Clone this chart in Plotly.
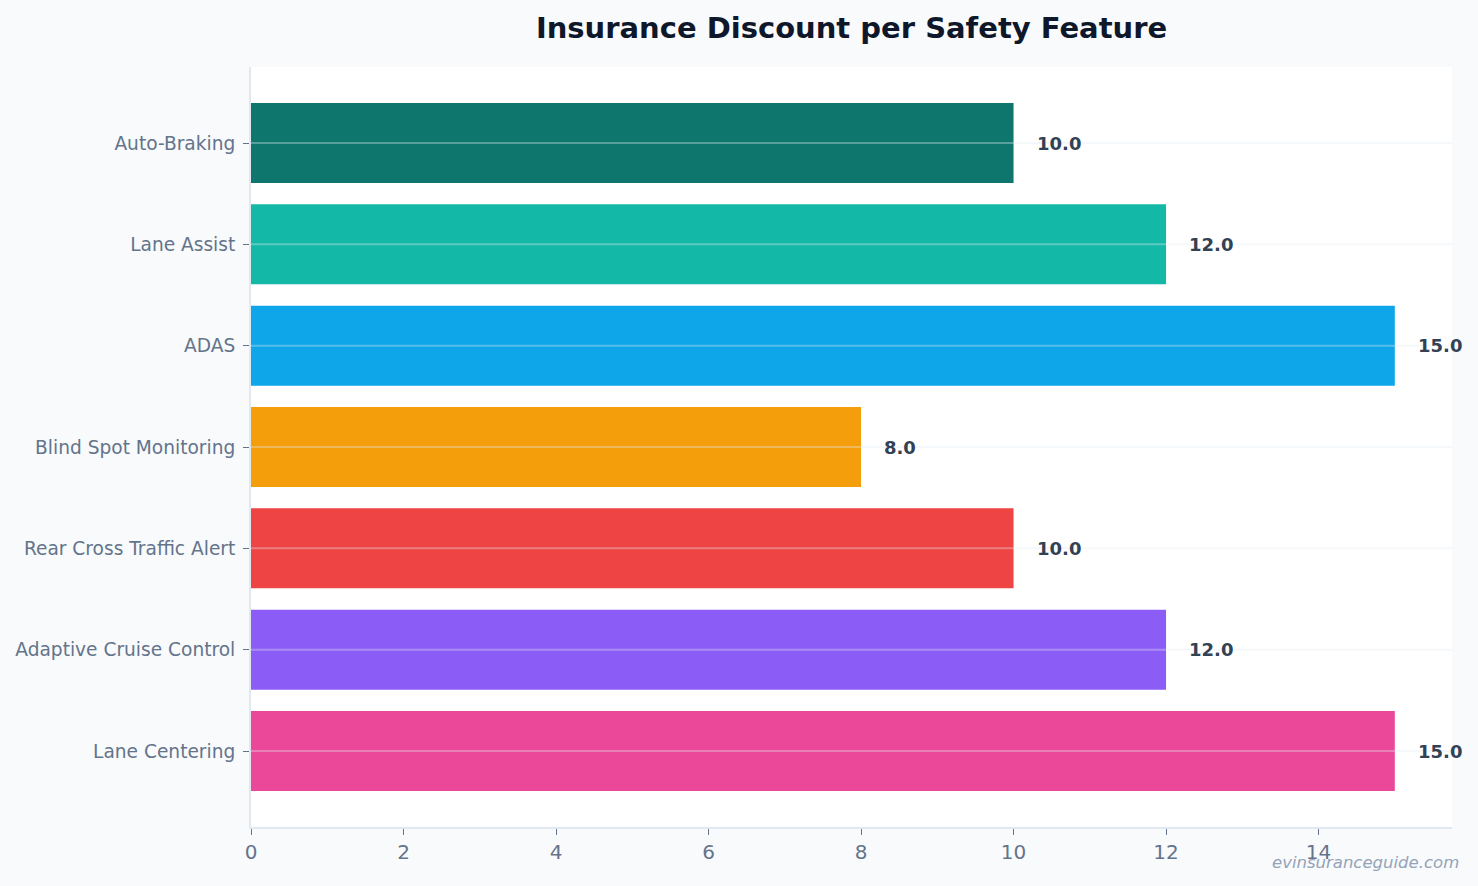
import plotly.graph_objects as go

features = ["Auto-Braking", "Lane Assist", "ADAS", "Blind Spot Monitoring",
            "Rear Cross Traffic Alert", "Adaptive Cruise Control", "Lane Centering"]
discounts = [10.0, 12.0, 15.0, 8.0, 10.0, 12.0, 15.0]
colors = ["#0f766e", "#14b8a6", "#0ea5e9", "#f59e0b", "#ef4444", "#8b5cf6", "#ec4899"]

fig = go.Figure()
fig.add_trace(go.Bar(
    y=features, x=discounts, orientation="h",
    marker=dict(color=colors, line=dict(width=0)),
    width=0.79,
    hoverinfo="x+y",
))

for f, v in zip(features, discounts):
    fig.add_annotation(x=v, y=f, xref="x", yref="y", text=f"<b>{v:.1f}</b>",
                       showarrow=False, xanchor="left", xshift=21,
                       font=dict(family="DejaVu Sans", size=18, color="#334155"))
    fig.add_shape(type="line", xref="paper", yref="y", x0=0, x1=1, y0=f, y1=f,
                  layer="above", line=dict(color="rgba(226,236,244,0.35)", width=2))

fig.add_annotation(x=1.0075, y=-0.047, xref="paper", yref="paper",
                   text="<i>evinsuranceguide.com</i>", showarrow=False,
                   xanchor="right", yanchor="middle",
                   font=dict(family="DejaVu Sans", size=16.5, color="#94a3b8"))

fig.update_layout(
    width=1478, height=886,
    paper_bgcolor="#f8fafc", plot_bgcolor="#ffffff",
    margin=dict(l=251, r=26, t=67, b=59),
    title=dict(text="<b>Insurance Discount per Safety Feature</b>", x=0.5, xref="paper",
               y=0.969, yanchor="middle",
               font=dict(family="DejaVu Sans", size=29, color="#0f172a")),
    showlegend=False,
    font=dict(family="DejaVu Sans"),
)
fig.update_xaxes(range=[0, 15.75], dtick=2, showgrid=False, zeroline=False,
                 showline=True, linecolor="#e2e8f0", linewidth=2,
                 ticks="outside", ticklen=6, tickcolor="#64748b",
                 tickfont=dict(size=20, color="#64748b"))
fig.update_yaxes(categoryorder="array", categoryarray=features, autorange=False,
                 range=[6.75, -0.75], showgrid=False, zeroline=False,
                 showline=True, linecolor="#e2e8f0", linewidth=2,
                 ticks="outside", ticklen=6, tickcolor="#64748b",
                 ticklabelstandoff=4,
                 tickfont=dict(size=18.6, color="#64748b"))

fig.write_html("out.html")
